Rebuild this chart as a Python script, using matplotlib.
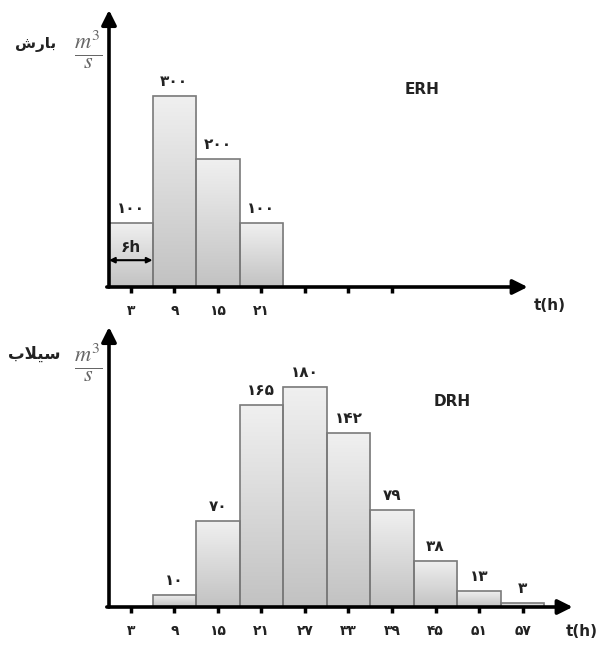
import numpy as np
import matplotlib
matplotlib.use('Agg')
import matplotlib.pyplot as plt
from matplotlib.colors import LinearSegmentedColormap

plt.rcParams['font.family'] = ['DejaVu Sans']
plt.rcParams['mathtext.fontset'] = 'stix'

# ---- data ----
bar_width = 6
erh_start = [0, 6, 12, 18]
erh_values = [100, 300, 200, 100]
drh_start = [6, 12, 18, 24, 30, 36, 42, 48, 54]
drh_values = [10, 70, 165, 180, 142, 79, 38, 13, 3]
erh_ticks = [3, 9, 15, 21, 27, 33, 39]
erh_tick_labels = ['۳', '۹', '۱۵', '۲۱', '', '', '']
drh_ticks = [3, 9, 15, 21, 27, 33, 39, 45, 51, 57]
drh_tick_labels = ['۳', '۹', '۱۵', '۲۱', '۲۷', '۳۳', '۳۹', '۴۵', '۵۱', '۵۷']
# Persian words in visual (presentation-form) order: "بارش" and "سیلاب"
erh_word = '\uFEB5\uFEAD\uFE8E\uFE91'
drh_word = '\uFE8F\uFEFC\uFEF4\uFEB3'

FA = str.maketrans('0123456789', '۰۱۲۳۴۵۶۷۸۹')


def to_fa(v):
    return str(v).translate(FA)


W, H = 601, 647
fig = plt.figure(figsize=(W / 100, H / 100), dpi=100)


def rect(x0, x1, ytop, ybot):
    return [x0 / W, (H - ybot) / H, (x1 - x0) / W, (ybot - ytop) / H]


cmap = LinearSegmentedColormap.from_list('g', ['#c2c2c2', '#f0f0f0'])
grad = np.linspace(0, 1, 256).reshape(-1, 1)


def draw(ax, starts, values, ymax, xend, ticks, labels):
    bars = ax.bar(starts, values, width=bar_width, align='edge',
                  facecolor='none', edgecolor='#7a7a7a', lw=1.2, zorder=3)
    for b, v in zip(bars, values):
        x0 = b.get_x()
        ax.imshow(grad, extent=(x0, x0 + b.get_width(), 0, b.get_height()),
                  origin='lower', cmap=cmap, aspect='auto', zorder=2)
        ax.annotate(to_fa(v), (x0 + b.get_width() / 2, v), xytext=(0, 5),
                    textcoords='offset points', ha='center', va='bottom',
                    fontsize=11, fontweight='bold', color='#222222')
    ax.set_xlim(0, 64.5)
    ax.set_ylim(0, ymax)
    for s in ax.spines.values():
        s.set_visible(False)
    ax.annotate('', xy=(xend, 0), xytext=(-0.3, 0),
                arrowprops=dict(arrowstyle='-|>', lw=2.6, color='black',
                                mutation_scale=22, shrinkA=0, shrinkB=0),
                annotation_clip=False, zorder=5)
    ax.annotate('', xy=(0, ymax), xytext=(0, 0),
                arrowprops=dict(arrowstyle='-|>', lw=2.6, color='black',
                                mutation_scale=22, shrinkA=0, shrinkB=0),
                annotation_clip=False, zorder=5)
    ax.set_xticks(ticks, labels)
    ax.set_yticks([])
    ax.tick_params(axis='x', length=4, width=2.5, color='black', pad=8,
                   labelsize=10)
    for t in ax.get_xticklabels():
        t.set_fontweight('bold')
        t.set_color('#222222')


ax1 = fig.add_axes(rect(109, 577, 10, 287))
draw(ax1, erh_start, erh_values, 434, 57.7, erh_ticks, erh_tick_labels)
ax2 = fig.add_axes(rect(109, 577, 327, 607))
draw(ax2, drh_start, drh_values, 229, 63.9, drh_ticks, drh_tick_labels)

# 6h annotation
ax1.annotate('', xy=(6, 42), xytext=(0, 42),
             arrowprops=dict(arrowstyle='<|-|>', lw=1.5, color='black',
                             mutation_scale=8, shrinkA=0, shrinkB=0), zorder=6)
ax1.text(3, 50, to_fa(6) + 'h', ha='center', va='bottom', fontsize=11,
         fontweight='bold', color='#222222', zorder=6)

# titles
fig.text(422 / W, 1 - 89 / H, 'ERH', ha='center', va='center', fontsize=11,
         fontweight='bold', color='#222222')
fig.text(452 / W, 1 - 402 / H, 'DRH', ha='center', va='center', fontsize=11,
         fontweight='bold', color='#222222')
fig.text(550 / W, 1 - 305 / H, 't(h)', ha='center', va='center', fontsize=11,
         fontweight='bold', color='#222222')
fig.text(582 / W, 1 - 632 / H, 't(h)', ha='center', va='center', fontsize=11,
         fontweight='bold', color='#222222')

# y labels
fig.text(88 / W, 1 - 50 / H, r'$\frac{m^3}{s}$', ha='center', va='center',
         fontsize=23, color='#666666')
fig.text(36 / W, 1 - 44 / H, erh_word, ha='center', va='center', fontsize=11,
         fontweight='bold', color='#222222')
fig.text(88 / W, 1 - 363 / H, r'$\frac{m^3}{s}$', ha='center', va='center',
         fontsize=23, color='#666666')
fig.text(34 / W, 1 - 354 / H, drh_word, ha='center', va='center', fontsize=12,
         fontweight='bold', color='#222222')

fig.savefig('out.png', dpi=100)
